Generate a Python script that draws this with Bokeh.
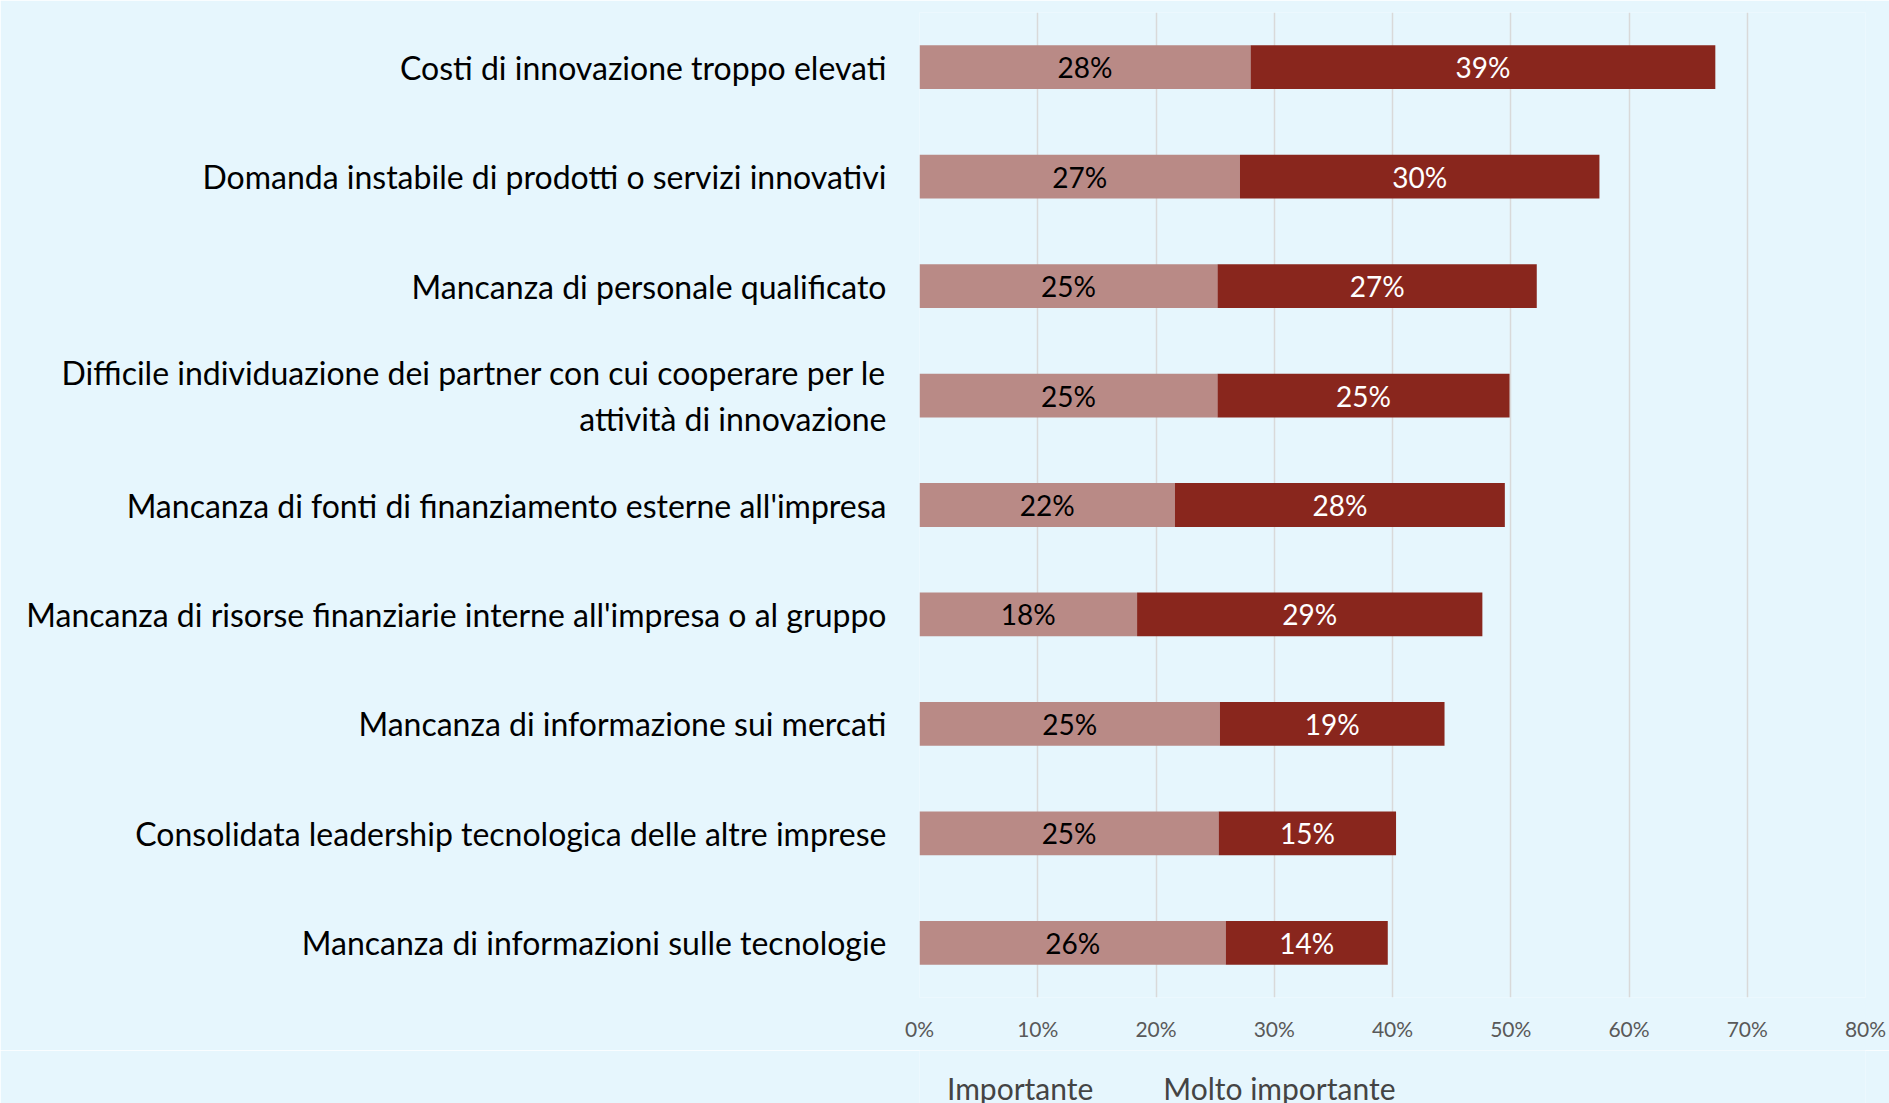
import numpy as np
from bokeh.plotting import figure
from bokeh.layouts import column
from bokeh.models import ColumnDataSource, FactorRange, FixedTicker, Legend, LegendItem, Range1d
from bokeh.core.properties import value
from bokeh.embed import file_html
from bokeh.resources import INLINE

categories = [
    "Costi di innovazione troppo elevati",
    "Domanda instabile di prodotti o servizi innovativi",
    "Mancanza di personale qualificato",
    "Difficile individuazione dei partner con cui cooperare per le\nattività di innovazione",
    "Mancanza di fonti di finanziamento esterne all'impresa",
    "Mancanza di risorse finanziarie interne all'impresa o al gruppo",
    "Mancanza di informazione sui mercati",
    "Consolidata leadership tecnologica delle altre imprese",
    "Mancanza di informazioni sulle tecnologie",
]
importante = [28.0, 27.1, 25.2, 25.2, 21.6, 18.4, 25.4, 25.3, 25.9]
molto_importante = [39.3, 30.4, 27.0, 24.7, 27.9, 29.2, 19.0, 15.0, 13.7]
series_names = ["Importante", "Molto importante"]
tick_values = [0, 10, 20, 30, 40, 50, 60, 70, 80]
tick_labels = ["0%", "10%", "20%", "30%", "40%", "50%", "60%", "70%", "80%"]

BG = "#E6F6FD"
C_IMP = "#B98A86"
C_MOLTO = "#89261D"
FONT = "Lato"
CAT_SIZE = "32px"
W = 1889
H_MAIN = 1050
H_LEG = 53

imp = np.array(importante)
mol = np.array(molto_importante)
src = ColumnDataSource(dict(
    cat=categories,
    imp_left=np.zeros(len(imp)),
    imp_right=imp,
    mol_left=imp,
    mol_right=imp + mol,
    imp_mid=imp / 2,
    mol_mid=imp + mol / 2,
    imp_lab=[f"{round(v):d}%" for v in imp],
    mol_lab=[f"{round(v):d}%" for v in mol],
))

factors = categories[::-1]
p = figure(
    width=W, height=H_MAIN,
    y_range=FactorRange(factors=factors, range_padding=0),
    x_range=(0, 80),
    output_backend="svg", toolbar_location=None,
    min_border_left=919, min_border_right=24, min_border_top=12, min_border_bottom=53,
)
p.background_fill_color = BG
p.border_fill_color = BG
p.outline_line_color = None

p.hbar(y="cat", left="imp_left", right="imp_right", height=0.4, source=src,
       fill_color=C_IMP, line_color=None)
p.hbar(y="cat", left="mol_left", right="mol_right", height=0.4, source=src,
       fill_color=C_MOLTO, line_color=None)

p.text(x="imp_mid", y="cat", text="imp_lab", source=src, text_align="center",
       text_baseline="middle", text_font=value(FONT), text_font_size="28px",
       text_color="black")
p.text(x="mol_mid", y="cat", text="mol_lab", source=src, text_align="center",
       text_baseline="middle", text_font=value(FONT), text_font_size="28px",
       text_color="white")

p.ygrid.grid_line_color = None
p.xgrid.grid_line_color = "#D9D9D9"
p.xgrid.grid_line_width = 1.5
p.xaxis.ticker = FixedTicker(ticks=tick_values)
p.xaxis.major_label_overrides = {v: l for v, l in zip(tick_values, tick_labels)}
p.xaxis.axis_line_color = None
p.xaxis.major_tick_line_color = None
p.xaxis.minor_tick_line_color = None
p.xaxis.major_label_text_font = FONT
p.xaxis.major_label_text_font_size = "21px"
p.xaxis.major_label_text_color = "#595959"
p.xaxis.major_label_standoff = 12

p.yaxis.axis_line_color = None
p.yaxis.major_tick_line_color = None
p.yaxis.minor_tick_line_color = None
p.yaxis.major_label_text_font = FONT
p.yaxis.major_label_text_font_size = CAT_SIZE
p.yaxis.major_label_text_color = "black"
p.yaxis.major_label_standoff = 27

# legend strip below the chart (its own small figure, so the legend is not clipped)
pl = figure(
    width=W, height=H_LEG, x_range=Range1d(0, 1), y_range=Range1d(0, 1),
    x_axis_type=None, y_axis_type=None,
    output_backend="svg", toolbar_location=None,
    min_border_left=0, min_border_right=0, min_border_top=0, min_border_bottom=0,
)
pl.background_fill_color = BG
pl.border_fill_color = BG
pl.outline_line_color = None
l1 = pl.hbar(y=[], left=[], right=[], height=0.4, fill_color=C_IMP, line_color=None)
l2 = pl.hbar(y=[], left=[], right=[], height=0.4, fill_color=C_MOLTO, line_color=None)

legend = Legend(
    items=[LegendItem(label=series_names[0], renderers=[l1]),
           LegendItem(label=series_names[1], renderers=[l2])],
    orientation="horizontal", location=(0, -3),
    background_fill_alpha=0, border_line_color=None,
    label_text_font=FONT, label_text_font_size="30px",
    glyph_width=20, glyph_height=20, label_standoff=8, spacing=42,
    padding=0, margin=0,
)
pl.add_layout(legend)

layout = column(p, pl, spacing=0)
open("out.html", "w").write(file_html(layout, INLINE))
